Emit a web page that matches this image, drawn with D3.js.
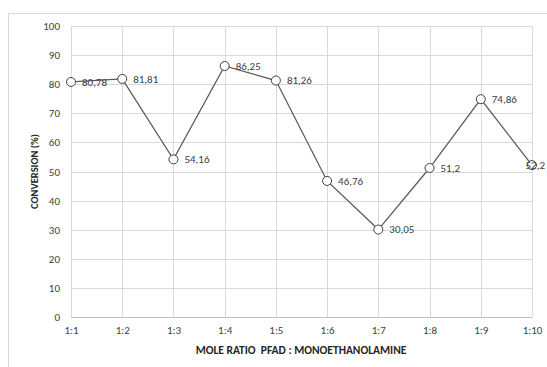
<!DOCTYPE html>
<html>
<head>
<meta charset="utf-8">
<script src="https://cdn.jsdelivr.net/npm/d3@7"></script>
<style>
  html, body { margin: 0; padding: 0; background: #fff; }
  svg { display: block; font-family: Carlito, "Liberation Sans", Arial, sans-serif; }
</style>
</head>
<body>
<svg id="chart" width="547" height="367"></svg>
<script>
// Mole ratio categories and measured conversion values
const ratios = ["1:1", "1:2", "1:3", "1:4", "1:5", "1:6", "1:7", "1:8", "1:9", "1:10"];
const conversion = [80.78, 81.81, 54.16, 86.25, 81.26, 46.76, 30.05, 51.2, 74.86, 52.2];
const yTicks = [0, 10, 20, 30, 40, 50, 60, 70, 80, 90, 100];
const xTitle = "MOLE RATIO  PFAD : MONOETHANOLAMINE";
const yTitle = "CONVERSION (%)";

const svg = d3.select("#chart");
const W = 547, H = 367;
const plot = { left: 71, right: 532, top: 26, bottom: 317 };

// Outer chart frame
svg.append("rect")
  .attr("x", 8.5).attr("y", 13.5)
  .attr("width", W + 10).attr("height", H + 10)
  .attr("fill", "#fff").attr("stroke", "#d9d9d9").attr("stroke-width", 1);

const x = d3.scalePoint().domain(ratios).range([plot.left, plot.right]);
const y = d3.scaleLinear().domain([0, 100]).range([plot.bottom, plot.top]);

// Horizontal gridlines
svg.append("g").selectAll("line").data(yTicks.filter(d => d > 0)).join("line")
  .attr("x1", plot.left).attr("x2", plot.right)
  .attr("y1", d => Math.round(y(d)) + 0.5).attr("y2", d => Math.round(y(d)) + 0.5)
  .attr("stroke", "#d9d9d9").attr("stroke-width", 1);

// Vertical gridlines at each category
svg.append("g").selectAll("line").data(ratios).join("line")
  .attr("x1", d => Math.round(x(d)) + 0.5).attr("x2", d => Math.round(x(d)) + 0.5)
  .attr("y1", plot.top).attr("y2", plot.bottom)
  .attr("stroke", "#d9d9d9").attr("stroke-width", 1);

// Category axis line
svg.append("line")
  .attr("x1", plot.left).attr("x2", plot.right)
  .attr("y1", plot.bottom + 0.5).attr("y2", plot.bottom + 0.5)
  .attr("stroke", "#bfbfbf").attr("stroke-width", 1);

// Y axis tick labels
const yAxis = d3.axisLeft(y).tickValues(yTicks).tickSize(0).tickPadding(11);
const gy = svg.append("g").attr("transform", `translate(${plot.left},0)`).call(yAxis);
gy.select(".domain").remove();
gy.selectAll("text").attr("font-size", 11).attr("fill", "#404040")
  .attr("font-family", "Carlito, 'Liberation Sans', Arial, sans-serif");

// X axis tick labels
const xAxis = d3.axisBottom(x).tickSize(0).tickPadding(9);
const gx = svg.append("g").attr("transform", `translate(0,${plot.bottom})`).call(xAxis);
gx.select(".domain").remove();
gx.selectAll("text").attr("font-size", 11).attr("fill", "#404040")
  .attr("font-family", "Carlito, 'Liberation Sans', Arial, sans-serif");

// Axis titles
svg.append("text")
  .attr("x", 301).attr("y", 354)
  .attr("text-anchor", "middle").attr("font-size", 11.5).attr("font-weight", "bold")
  .style("white-space", "pre")
  .attr("fill", "#262626").text(xTitle);

svg.append("text")
  .attr("transform", `translate(38,${(plot.top + plot.bottom) / 2}) rotate(-90)`)
  .attr("text-anchor", "middle").attr("font-size", 10.5).attr("font-weight", "bold")
  .attr("fill", "#262626").text(yTitle);

const pts = ratios.map((r, i) => ({ r, v: conversion[i] }));

// Series line
svg.append("path")
  .datum(pts)
  .attr("fill", "none").attr("stroke", "#595959").attr("stroke-width", 1.25)
  .attr("d", d3.line().x(d => x(d.r)).y(d => y(d.v)));

// Markers
svg.append("g").selectAll("circle").data(pts).join("circle")
  .attr("cx", d => x(d.r)).attr("cy", d => y(d.v)).attr("r", 4.5)
  .attr("fill", "#fff").attr("stroke", "#404040").attr("stroke-width", 1);

// Data labels, right of each marker; kept inside the frame
const labels = svg.append("g").selectAll("text").data(pts).join("text")
  .attr("y", d => y(d.v)).attr("dy", "0.35em")
  .attr("font-size", 11).attr("fill", "#404040")
  .text(d => String(d.v).replace(".", ","));
labels.each(function (d) {
  const w = this.getComputedTextLength();
  const px = Math.min(x(d.r) + 11, 546 - w - 1);
  d3.select(this).attr("x", px);
});
</script>
</body>
</html>
